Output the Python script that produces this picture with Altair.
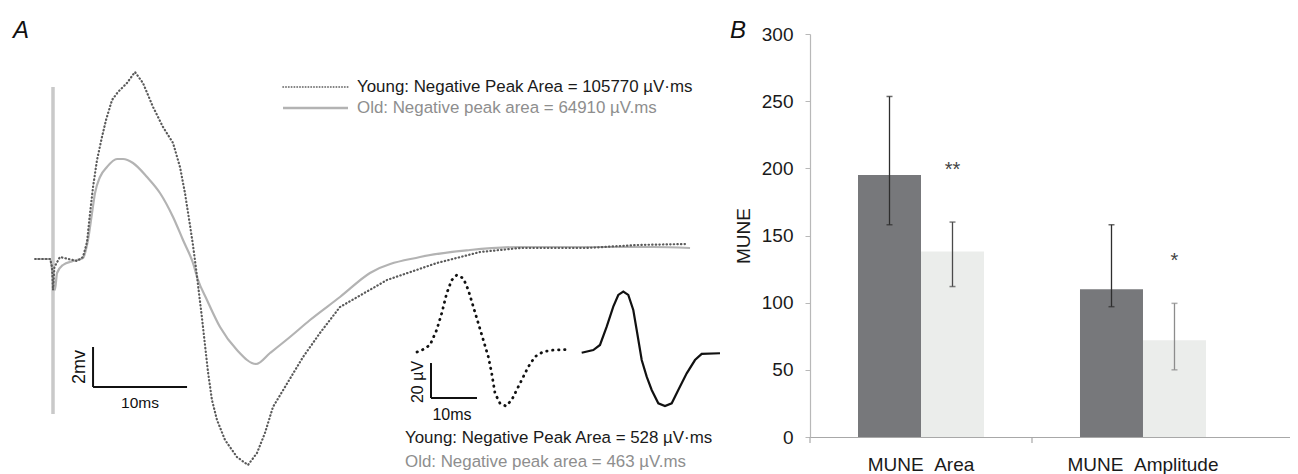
import altair as alt
import pandas as pd

# ---------------- Panel A: CMAP traces (time in ms, voltage in mV) ----------------
YOUNG_T = [-1.9, -0.3, -0.1, 0.0, 0.15, 0.74, 2.55, 3.19, 3.62, 3.94, 4.26, 4.68, 5.21, 5.64,
           6.28, 6.91, 7.87, 8.72, 9.57, 10.64, 11.70, 12.77, 13.51, 14.04, 14.57, 14.89, 15.21,
           15.53, 15.85, 16.17, 16.49, 16.91, 17.45, 18.3, 19.57, 20.74, 21.7, 22.55, 23.4, 24.68,
           26.6, 28.4, 30.53, 35.53, 40.85, 45.43, 49.68, 56.8, 62.13, 67.45]
YOUNG_V = [0, 0, -0.4, -1.55, -0.4, 0.1, -0.1, 0.1, 0.85, 2.3, 3.6, 4.95, 6.1, 6.95,
           7.95, 8.35, 8.8, 9.35, 8.8, 7.6, 6.6, 5.8, 4.6, 3.3, 1.7, 0.7, -0.45,
           -1.7, -2.95, -4.3, -5.65, -7.05, -8.05, -9.05, -9.9, -10.3, -9.7, -8.7, -7.4, -6.4,
           -4.9, -3.7, -2.4, -1.05, -0.2, 0.35, 0.55, 0.55, 0.7, 0.75]
OLD_T = [-1.9, -0.3, 0.2, 0.43, 1.06, 2.13, 3.19, 3.72, 4.15, 4.47, 5.0, 5.74, 6.81, 7.45,
         8.51, 10.0, 11.38, 12.77, 13.83, 14.89, 15.43, 16.38, 17.77, 19.57, 21.6, 23.09,
         25.21, 27.34, 30.53, 33.72, 39.04, 44.36, 49.68, 56.8, 63.83, 67.77]
OLD_V = [0, 0, -1.55, -0.7, -0.3, -0.1, 0.05, 0.95, 2.3, 3.3, 4.1, 4.6, 5.0, 5.0,
         4.8, 4.1, 3.3, 2.1, 0.95, -0.2, -1.05, -2.05, -3.4, -4.55, -5.25, -4.7,
         -3.9, -3.05, -1.9, -0.7, 0.1, 0.45, 0.6, 0.6, 0.6, 0.55]
# stimulus artifact (ms, mV)
ART_T = [0.0]
ART_TOP = [8.6]
ART_BOT = [-7.75]
# scale bar: 10 ms x 2 mV
SB_T0, SB_T1 = [4.26], [14.26]
SB_V0, SB_V1 = [-6.4], [-4.4]

# inset: single motor unit potentials (time in ms, voltage in uV)
IN_YOUNG_T = [0, 1.37, 2.83, 4.28, 5.37, 6.46, 7.54, 8.63, 10.07, 11.15, 12.24, 13.33, 14.41,
              15.5, 16.24, 16.96, 18.04, 19.35, 20.59, 21.67, 22.76, 24.2, 25.65, 27.46, 29.63, 33.26]
IN_YOUNG_V = [0, 1.5, 4.0, 12.6, 22.1, 33.5, 41.1, 44.0, 42.1, 35.4, 25.9, 16.4, 6.9,
              -2.7, -12.2, -23.6, -29.3, -30.9, -27.4, -21.7, -16.0, -8.4, -2.7, 0.2, 1.1, 1.5]
IN_OLD_T = [35.8, 38.33, 39.78, 41.24, 42.67, 43.76, 44.85, 45.93, 47.02, 47.76, 48.85, 49.93,
            51.02, 52.46, 53.91, 55.37, 56.8, 58.63, 60.43, 61.89, 65.87]
IN_OLD_V = [-0.4, 1.1, 4.0, 14.5, 25.9, 32.6, 34.5, 32.6, 24.0, 12.6, -4.6, -14.1,
            -21.7, -29.3, -30.9, -29.3, -21.7, -12.2, -4.6, -1.1, -0.7]
# inset scale bar: 10 ms x 20 uV
ISB_T0, ISB_T1 = [3.04], [13.04]
ISB_V0, ISB_V1 = [-26.3], [-6.3]

LEG_MAIN = ["Young: Negative Peak Area = 105770 \u00b5V\u00b7ms", "Old: Negative peak area = 64910 \u00b5V.ms"]
LEG_INSET = ["Young: Negative Peak Area = 528 \u00b5V\u00b7ms", "Old: Negative peak area = 463 \u00b5V.ms"]

# ---------------- Panel B: MUNE bars ----------------
CATS = ["MUNE\u00a0\u00a0Area", "MUNE\u00a0\u00a0Amplitude"]
GROUPS = ["Young", "Old"]
YOUNG_MEAN = [195, 110]
OLD_MEAN = [138, 72]
YOUNG_LO = [158, 97]
YOUNG_HI = [253.5, 158]
OLD_LO = [112, 50]
OLD_HI = [160, 99.5]
SIG = ["**", "*"]
SIG_Y = [199, 131]

FONT = "Liberation Sans, Arial, sans-serif"

# ---------- Panel A construction ----------
MX = dict(domain=[0, 10], range=[45, 139])
MY = dict(domain=[0, 2], range=[251, 211])
IX = dict(domain=[0, 10], range=[409, 455])
IY = dict(domain=[0, 20], range=[344, 309])


def qx(field, s):
    return alt.X(field, type="quantitative", scale=alt.Scale(nice=False, zero=False, **s), axis=None)


def qy(field, s):
    return alt.Y(field, type="quantitative", scale=alt.Scale(nice=False, zero=False, **s), axis=None)


young = pd.DataFrame({"t": YOUNG_T, "v": YOUNG_V, "i": range(len(YOUNG_T))})
old = pd.DataFrame({"t": OLD_T, "v": OLD_V, "i": range(len(OLD_T))})
art = pd.DataFrame({"t": ART_T, "top": ART_TOP, "bot": ART_BOT})
sb = pd.DataFrame({"t0": SB_T0, "t1": SB_T1, "v0": SB_V0, "v1": SB_V1})
iy = pd.DataFrame({"t": IN_YOUNG_T, "v": IN_YOUNG_V, "i": range(len(IN_YOUNG_T))})
io = pd.DataFrame({"t": IN_OLD_T, "v": IN_OLD_V, "i": range(len(IN_OLD_T))})
isb = pd.DataFrame({"t0": ISB_T0, "t1": ISB_T1, "v0": ISB_V0, "v1": ISB_V1})

layers_a = []
layers_a.append(alt.Chart(art).mark_rule(color="#c9c9c9", strokeWidth=3.5).encode(
    x=qx("t", MX), y=qy("top", MY), y2="bot"))
layers_a.append(alt.Chart(old).mark_line(color="#b3b3b3", strokeWidth=2.2, interpolate="monotone").encode(
    x=qx("t", MX), y=qy("v", MY), order="i:Q"))
layers_a.append(alt.Chart(young).mark_line(color="#5a5a5a", strokeWidth=2.2, strokeDash=[0.4, 3.2],
                                           strokeCap="round").encode(
    x=qx("t", MX), y=qy("v", MY), order="i:Q"))
layers_a.append(alt.Chart(sb).mark_rule(color="#111", strokeWidth=2).encode(
    x=qx("t0", MX), x2="t1", y=qy("v0", MY)))
layers_a.append(alt.Chart(sb).mark_rule(color="#111", strokeWidth=2).encode(
    x=qx("t0", MX), y=qy("v0", MY), y2="v1"))
# inset
layers_a.append(alt.Chart(iy).mark_line(color="#111", strokeWidth=2.8, strokeDash=[0.4, 5.6],
                                        strokeCap="round").encode(
    x=qx("t", IX), y=qy("v", IY), order="i:Q"))
layers_a.append(alt.Chart(io).mark_line(color="#111", strokeWidth=2.2).encode(
    x=qx("t", IX), y=qy("v", IY), order="i:Q"))
layers_a.append(alt.Chart(isb).mark_rule(color="#111", strokeWidth=2).encode(
    x=qx("t0", IX), x2="t1", y=qy("v0", IY)))
layers_a.append(alt.Chart(isb).mark_rule(color="#111", strokeWidth=2).encode(
    x=qx("t0", IX), y=qy("v0", IY), y2="v1"))


def label(text, x, y, size, color="#111", angle=None, align="center", style="normal", font=FONT):
    kw = dict(fontSize=size, color=color, align=align, baseline="middle", font=font, fontStyle=style)
    if angle is not None:
        kw["angle"] = angle
    return alt.Chart(pd.DataFrame({"label": [text]})).mark_text(**kw).encode(
        x=alt.value(x), y=alt.value(y), text="label:N")


# legend for main traces
layers_a.append(alt.Chart(pd.DataFrame({"k": [0]})).mark_rule(
    color="#555", strokeWidth=1.6, strokeDash=[0.4, 2.4], strokeCap="round").encode(
    x=alt.value(275), x2=alt.value(340), y=alt.value(79)))
layers_a.append(alt.Chart(pd.DataFrame({"k": [0]})).mark_rule(
    color="#b3b3b3", strokeWidth=2.4).encode(
    x=alt.value(275), x2=alt.value(340), y=alt.value(100)))
layers_a.append(label(LEG_MAIN[0], 349, 79, 16.9, "#1a1a1a", align="left"))
layers_a.append(label(LEG_MAIN[1], 349, 100, 16.9, "#8e8e8e", align="left"))
layers_a.append(label(LEG_INSET[0], 397, 430, 16.9, "#1a1a1a", align="left"))
layers_a.append(label(LEG_INSET[1], 397, 454, 16.9, "#8e8e8e", align="left"))
layers_a.append(label("2mv", 72, 359, 18, "#111", angle=270))
layers_a.append(label("10ms", 132, 395, 15.5, "#111"))
layers_a.append(label("20 \u00b5V", 410, 374, 16, "#111", angle=270))
layers_a.append(label("10ms", 444, 407, 16, "#111"))
layers_a.append(label("A", 13, 23, 24, "#111", style="italic"))

panel_a = alt.layer(*layers_a).resolve_scale(x="independent", y="independent").properties(
    width=712, height=429)

# ---------- Panel B construction ----------
bdf = pd.DataFrame({
    "cat": CATS + CATS,
    "group": ["Young"] * 2 + ["Old"] * 2,
    "mean": YOUNG_MEAN + OLD_MEAN,
    "lo": YOUNG_LO + OLD_LO,
    "hi": YOUNG_HI + OLD_HI,
    "fill": ["#77787b", "#77787b", "#ebedeb", "#ebedeb"],
    "ecol": ["#2e2e2e", "#2e2e2e", "#4a4a4a", "#8c8c8c"],
})
sdf = pd.DataFrame({"cat": CATS, "group": ["Old", "Old"], "y": SIG_Y, "label": SIG})
tdf = pd.DataFrame({"cat": CATS})

xaxis = alt.Axis(title=None, labelAngle=0, ticks=False, domainColor="#a8a8a8", domainWidth=1.2,
                 labelFont=FONT, labelFontSize=19, labelPadding=18, labelColor="#1a1a1a")
xscale = alt.Scale(domain=CATS, paddingInner=0, paddingOuter=0.0811, align=0)
yaxis = alt.Axis(title="MUNE", values=[0, 50, 100, 150, 200, 250, 300], grid=False,
                 domainColor="#b8b8b8", domainWidth=1.2, tickColor="#b8b8b8", tickSize=5,
                 labelFont=FONT, labelFontSize=19, labelColor="#1a1a1a", labelPadding=12,
                 titleFont=FONT, titleFontSize=19, titleFontWeight="normal", titleColor="#1a1a1a",
                 titlePadding=8)
yscale = alt.Scale(domain=[0, 300], range=[429, 26], nice=False, zero=True)
xoff = alt.XOffset("group:N", sort=GROUPS,
                   scale=alt.Scale(domain=GROUPS, paddingInner=0, paddingOuter=0.762))


def bx():
    return alt.X("cat:N", sort=CATS, scale=xscale, axis=xaxis)


bars = alt.Chart(bdf).mark_bar().encode(
    x=bx(), xOffset=xoff,
    y=alt.Y("mean:Q", scale=yscale, axis=yaxis),
    fill=alt.Fill("fill:N", scale=None))
err = alt.Chart(bdf).mark_rule(strokeWidth=1.3).encode(
    x=bx(), xOffset=xoff,
    y=alt.Y("lo:Q", scale=yscale, axis=yaxis), y2="hi",
    color=alt.Color("ecol:N", scale=None))
cap_lo = alt.Chart(bdf).mark_tick(size=6, thickness=1.5).encode(
    x=bx(), xOffset=xoff,
    y=alt.Y("lo:Q", scale=yscale, axis=yaxis),
    color=alt.Color("ecol:N", scale=None))
cap_hi = alt.Chart(bdf).mark_tick(size=6, thickness=1.5).encode(
    x=bx(), xOffset=xoff,
    y=alt.Y("hi:Q", scale=yscale, axis=yaxis),
    color=alt.Color("ecol:N", scale=None))
sig = alt.Chart(sdf).mark_text(fontSize=20, color="#444", font=FONT, baseline="middle").encode(
    x=bx(), xOffset=xoff,
    y=alt.Y("y:Q", scale=yscale, axis=yaxis),
    text="label:N")
bticks = alt.Chart(tdf).mark_rule(color="#a8a8a8", strokeWidth=1.2).encode(
    x=alt.X("cat:N", sort=CATS, scale=xscale, axis=xaxis, bandPosition=0),
    y=alt.value(429), y2=alt.value(435))
blabel = alt.Chart(pd.DataFrame({"label": ["B"]})).mark_text(
    fontSize=24, fontStyle="italic", color="#111", font=FONT, baseline="middle").encode(
    x=alt.value(-72), y=alt.value(23), text="label:N")

panel_b = alt.layer(bars, err, cap_lo, cap_hi, sig, bticks, blabel).properties(width=480, height=429)

chart = alt.hconcat(panel_a, panel_b, spacing=90, bounds="flush").properties(
    padding=0, background="white"
).configure_view(stroke=None)

chart.save("out.html", embed_options={"renderer": "svg", "actions": False})
